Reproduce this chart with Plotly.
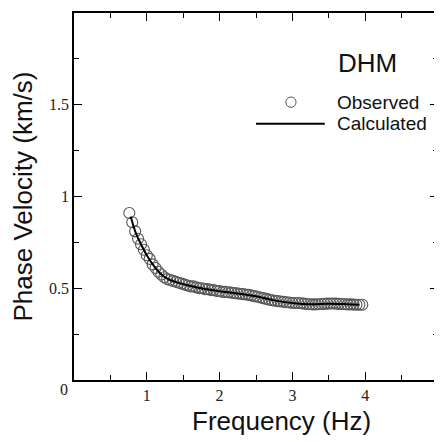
import plotly.graph_objects as go

# Observed phase velocity (km/s) vs frequency (Hz)
obs_freq = [0.76, 0.80, 0.84, 0.88, 0.92, 0.96, 1.00, 1.04, 1.08, 1.12, 1.16, 1.20,
            1.24, 1.28, 1.32, 1.36, 1.40, 1.44, 1.48, 1.52, 1.56, 1.60, 1.64, 1.68,
            1.72, 1.76, 1.80, 1.84, 1.88, 1.92, 1.96, 2.00, 2.04, 2.08, 2.12, 2.16,
            2.20, 2.24, 2.28, 2.32, 2.36, 2.40, 2.44, 2.48, 2.52, 2.56, 2.60, 2.64,
            2.68, 2.72, 2.76, 2.80, 2.84, 2.88, 2.92, 2.96, 3.00, 3.04, 3.08, 3.12,
            3.16, 3.20, 3.24, 3.28, 3.32, 3.36, 3.40, 3.44, 3.48, 3.52, 3.56, 3.60,
            3.64, 3.68, 3.72, 3.76, 3.80, 3.84, 3.88, 3.92, 3.96]
obs_vel = [0.91, 0.86, 0.81, 0.77, 0.74, 0.71, 0.68, 0.66, 0.63, 0.61, 0.59, 0.575,
           0.56, 0.55, 0.545, 0.54, 0.535, 0.53, 0.525, 0.52, 0.515, 0.51, 0.51, 0.505,
           0.50, 0.50, 0.495, 0.495, 0.49, 0.49, 0.485, 0.485, 0.48, 0.48, 0.478, 0.476,
           0.474, 0.472, 0.47, 0.468, 0.466, 0.464, 0.46, 0.457, 0.454, 0.45, 0.446, 0.442,
           0.438, 0.435, 0.432, 0.43, 0.428, 0.426, 0.424, 0.422, 0.42, 0.42, 0.42, 0.418,
           0.416, 0.414, 0.413, 0.412, 0.412, 0.413, 0.414, 0.415, 0.416, 0.417, 0.417, 0.416,
           0.415, 0.414, 0.413, 0.412, 0.412, 0.411, 0.41, 0.41, 0.41]

# Calculated dispersion curve
calc_freq = [0.78, 0.85, 0.92, 1.00, 1.10, 1.20, 1.30, 1.45, 1.60, 1.80, 2.00, 2.25,
             2.50, 2.75, 3.00, 3.25, 3.50, 3.75, 3.92]
calc_vel = [0.89, 0.80, 0.74, 0.68, 0.62, 0.575, 0.548, 0.528, 0.512, 0.496, 0.484, 0.472,
            0.456, 0.434, 0.42, 0.413, 0.416, 0.413, 0.41]

x_ticks = [1, 2, 3, 4, 5]
y_ticks = [0.5, 1, 1.5, 2]
y_tick_text = ["0.5", "1", "1.5", "2"]

fig = go.Figure()
fig.add_trace(go.Scatter(x=obs_freq, y=obs_vel, mode="markers",
                         marker=dict(symbol="circle-open", size=11,
                                     color="#555555", line=dict(width=1.1)),
                         showlegend=False))
fig.add_trace(go.Scatter(x=calc_freq, y=calc_vel, mode="lines",
                         line=dict(color="black", width=2, shape="spline"),
                         showlegend=False))

axis_common = dict(showline=True, linecolor="black", linewidth=1.5, mirror="allticks",
                   ticks="inside", ticklen=8, tickwidth=1.2, tickcolor="black",
                   showgrid=False, zeroline=False,
                   tickfont=dict(family="Liberation Serif", size=16, color="#222"))

fig.update_xaxes(range=[0, 5], tickvals=x_ticks, ticktext=[str(v) for v in x_ticks],
                 minor=dict(dtick=0.5, ticks="inside", ticklen=5, tickcolor="black", tickwidth=1),
                 automargin=False,
                 **axis_common)
fig.update_yaxes(range=[0, 2], tickvals=y_ticks, ticktext=y_tick_text,
                 minor=dict(dtick=0.25, ticks="inside", ticklen=5, tickcolor="black", tickwidth=1),
                 title=dict(text="Phase Velocity (km/s)", standoff=10,
                            font=dict(family="Liberation Sans", size=26, color="#111")),
                 **axis_common)

# x-axis title (sits right of plot centre in the original)
fig.add_annotation(text="Frequency (Hz)", xref="paper", yref="paper", x=0.571, y=-0.112,
                   xanchor="center", yanchor="middle", showarrow=False,
                   font=dict(family="Liberation Sans", size=26, color="#111"))

fig.add_annotation(text="0", xref="paper", yref="paper", x=-0.027, y=-0.027,
                   xanchor="center", yanchor="middle", showarrow=False,
                   font=dict(family="Liberation Serif", size=16, color="#222"))

# Legend (manual)
fig.add_annotation(text="DHM", xref="paper", yref="paper", x=0.72, y=0.864,
                   xanchor="left", yanchor="middle", showarrow=False,
                   font=dict(family="Liberation Sans", size=26, color="#111"))
fig.add_annotation(text="Observed", xref="paper", yref="paper", x=0.716, y=0.757,
                   xanchor="left", yanchor="middle", showarrow=False,
                   font=dict(family="Liberation Sans", size=19, color="#111"))
fig.add_annotation(text="Calculated", xref="paper", yref="paper", x=0.716, y=0.698,
                   xanchor="left", yanchor="middle", showarrow=False,
                   font=dict(family="Liberation Sans", size=19, color="#111"))
fig.add_shape(type="circle", xref="paper", yref="paper",
              x0=0.582, x1=0.610, y0=0.743, y1=0.771,
              line=dict(color="#555555", width=1))
fig.add_shape(type="line", xref="paper", yref="paper",
              x0=0.50, x1=0.689, y0=0.698, y1=0.698,
              line=dict(color="black", width=2))

fig.update_layout(width=434, height=434, margin=dict(l=66, r=2, t=5, b=62),
                  plot_bgcolor="white", paper_bgcolor="white")

fig.write_html("out.html")
